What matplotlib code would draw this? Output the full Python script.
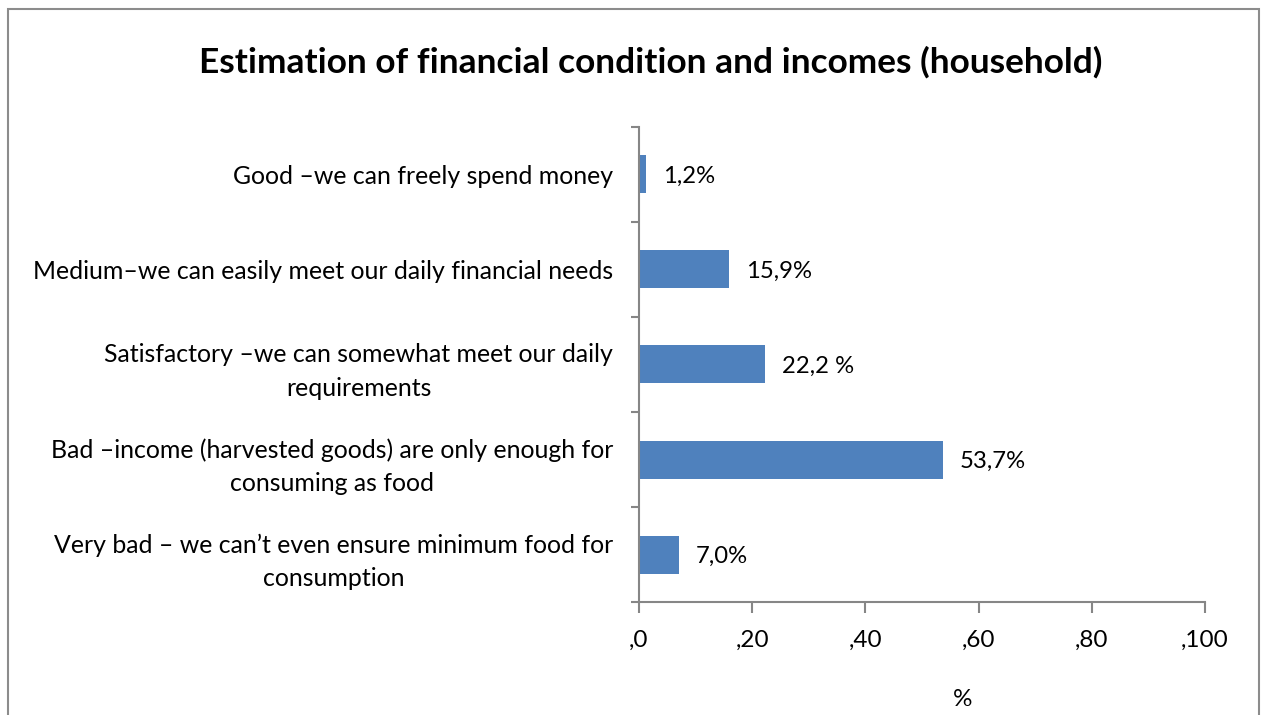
import matplotlib
matplotlib.use("Agg")
import matplotlib.pyplot as plt
from matplotlib.patches import Rectangle

categories = [
    "Very bad \u2013 we can\u2019t even ensure minimum food for\nconsumption",
    "Bad \u2013income (harvested goods) are only enough for\nconsuming as food",
    "Satisfactory \u2013we can somewhat meet our daily\nrequirements",
    "Medium\u2013we can easily meet our daily financial needs",
    "Good \u2013we can freely spend money",
]
values = [7.0, 53.7, 22.2, 15.9, 1.2]
value_labels = ["7,0%", "53,7%", "22,2 %", "15,9%", "1,2%"]
x_ticks = [0, 20, 40, 60, 80, 100]
x_tick_labels = [",0", ",20", ",40", ",60", ",80", ",100"]

W, H = 1262, 715
plt.rcParams['font.family'] = ['Lato', 'DejaVu Sans']
fig = plt.figure(figsize=(W / 100, H / 100), dpi=100)

# outer chart frame (bottom edge runs off the canvas)
fig.patches.append(Rectangle((8 / W, -0.05), (1259 - 8) / W, 1.05 - 9 / H,
                             transform=fig.transFigure, fill=False,
                             edgecolor="#8c8c8c", linewidth=1.5))

ax = fig.add_axes([639 / W, (H - 602) / H, (1205 - 639) / W, (602 - 127) / H])
axis_color = "#868686"
ypos = list(range(len(categories)))
ax.barh(ypos, values, height=0.4, color="#4F81BD")

for y, v, lab in zip(ypos, values, value_labels):
    ax.text(v + 3.0, y - 0.02, lab, va="center", ha="left", fontsize=17.2, color="black")

ax.set_xlim(0, 100)
ax.set_ylim(-0.5, len(categories) - 0.5)
ax.set_xticks(x_ticks)
ax.set_xticklabels(x_tick_labels, fontsize=17.5)
ax.set_yticks(ypos)
ax.set_yticklabels(categories, fontsize=17.9, multialignment="center", linespacing=1.55)
ax.tick_params(axis="y", length=0, pad=18.5)
ax.set_yticks([i - 0.5 for i in range(len(categories) + 1)], minor=True)
ax.tick_params(axis="y", which="minor", length=6, width=1.5, color=axis_color, direction="out")
ax.tick_params(axis="x", length=8, width=1.5, color=axis_color, direction="out", pad=12)

for side in ("top", "right"):
    ax.spines[side].set_visible(False)
for side in ("left", "bottom"):
    ax.spines[side].set_color(axis_color)
    ax.spines[side].set_linewidth(1.5)

fig.text(963 / W, 1 - 700 / H, "%", ha="center", va="center", fontsize=17.5)
fig.text(651 / W, 1 - 62 / H, "Estimation of financial condition and incomes (household)",
         ha="center", va="center", fontsize=25.4, fontweight="bold")

fig.savefig("out.png", dpi=100)
